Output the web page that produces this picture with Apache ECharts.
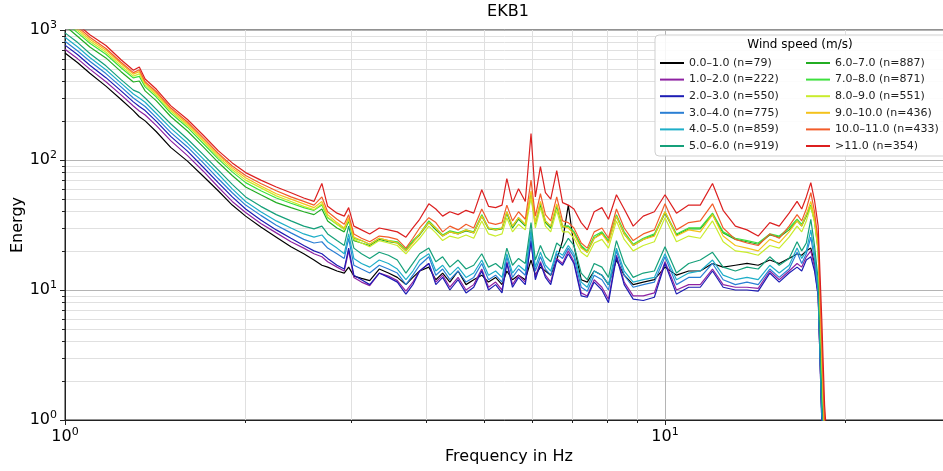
<!DOCTYPE html>
<html>
<head>
<meta charset="utf-8">
<title>EKB1</title>
<script src="https://cdn.jsdelivr.net/npm/echarts@6/dist/echarts.min.js"></script>
<style>
  html, body { margin: 0; padding: 0; background: #fff; }
  #chart { width: 943px; height: 471px; }
</style>
</head>
<body>
<div id="chart"></div>
<script>
// frequencies (Hz) shared by all curves
var freq = [
  1.00, 1.05, 1.10, 1.17, 1.24, 1.30, 1.33, 1.36, 1.42, 1.50,
  1.60, 1.70, 1.80, 1.90, 2.00, 2.12, 2.25, 2.38, 2.50, 2.60,
  2.68, 2.74, 2.84, 2.92, 2.97, 3.03, 3.12, 3.22, 3.34, 3.46,
  3.58, 3.70, 3.80, 3.90, 4.04, 4.15, 4.26, 4.38, 4.52, 4.66,
  4.80, 4.95, 5.08, 5.22, 5.35, 5.45, 5.57, 5.70, 5.85, 5.98,
  6.08, 6.20, 6.32, 6.45, 6.60, 6.75, 6.90, 7.05, 7.25, 7.42,
  7.62, 7.85, 8.05, 8.30, 8.55, 8.85, 9.20, 9.60, 10.00, 10.45,
  10.95, 11.45, 12.00, 12.50, 13.10, 13.70, 14.30, 14.95, 15.50, 16.10,
  16.60, 16.90, 17.20, 17.50, 17.75, 18.00, 18.25, 18.45, 18.70
];

// energy per wind speed class
var ws00_01 = [665,560,465,370,292,240,215,200,165,125,
  98,75,58,45,37,30.5,25.5,21.5,19,17,
  15.5,15,14,13.5,15,12.8,12.3,11.8,14.5,13.5,
  12.5,11,12.5,14,15,12,13.5,11.5,14,11,
  12,13,11.5,12.5,11,14,12,13,12,17,
  13,15,14,13,17,24,45,22,12,11.5,
  14,13,11,17,13,11,11.5,12,15,13,
  14,14,16,15,15.5,16,15.5,17,16,17.5,
  19,18.5,20,21,16,9.5,1.1,0.5,0.5];
var ws01_02 = [712,600,500,400,317,260,238,222,184,141,
  108,82,62,48,39.5,32.5,27.5,23.5,21,19,
  18,16.5,15,14,20,12.5,11.5,10.8,13.5,12.8,
  11.8,9.8,11.5,14,16,11.5,13,10.5,12.5,10,
  11,14.5,10.5,11.5,10,16.5,11,13,11.5,24,
  12.5,16.5,13,11.5,17.5,16,20,16.5,9.5,9,
  12,10.5,8.5,18.5,11.5,9,9,9.5,16.5,10,
  11,11,14.5,11,10.5,10.5,10.3,14,12,14,
  16,15,18,20,15,9,1,0.5,0.5];
var ws02_03 = [765,645,535,430,340,280,258,240,198,152,
  117,88,67,52,42,34.5,29,25,22,20,
  19,17.5,15.5,14.5,21,13,12,11,13.5,12.5,
  11.5,9.3,11,14,16,11,12.5,10,12,9.5,
  10.5,14,10,11,9.5,16,10.5,12.5,11,24,
  12,16,12.5,11,17,15.5,19,16,9,8.8,
  11.5,10,8,18,11,8.5,8.3,8.8,16,9.3,
  10.5,10.5,14,10.5,10,10,9.8,13.5,11.5,13.5,
  15,14,17,18,14,9,1,0.5,0.5];
var ws03_04 = [820,690,575,462,365,300,278,258,212,163,
  126,95,72,56,45,37.5,31.5,27.5,24.5,23,
  23.5,21,19,17.5,25,15.5,14.5,13.5,15.5,14.5,
  13.5,11,13,15.5,18,13,14.5,12,14,11.5,
  12.5,16,12,13,11.5,18,12.5,14.5,13,27,
  14,18,14.5,13,19,17.5,21,18,10.5,9.8,
  13,12,10,20,13,10.5,11,11.5,18,11,
  12.5,12.5,16,12,11,11.5,11,14.5,12.5,14.5,
  19.5,16,19,25.5,17,9.5,1.1,0.6,0.5];
var ws04_05 = [880,740,615,495,390,322,300,278,228,176,
  135,102,78,60,48,40,34,30,27,25.5,
  26.5,23.5,21,19,27,17.5,16,15,17,16,
  14.5,12,14,17,19,14,15.5,13,15,12.5,
  13.5,17,13,14,12.5,19,13.5,15.5,14,29,
  15,19.5,15.5,14,20,18.5,22,19,11.5,10.5,
  14,13,11,21,14,11.5,12,12.5,19,12,
  13.5,14,17,13,12,12.5,12,15.5,13.5,15.5,
  21,17.5,20,29,19,10.5,1.3,0.6,0.5];
var ws05_06 = [950,800,660,530,415,345,330,300,245,190,
  145,110,84,65,52,44,38,34,31,29.5,
  31,27,24,22,31,21,19,17.5,19.5,18.5,
  17,13.5,16,19,21,16.5,18,15,17,14.5,
  15.5,19,15,16,14.5,21,15.5,17.5,16,33,
  17,22,18,16.5,23,21,25,22,13.5,12,
  16,15,12.5,24,16,12.5,13.5,14,21.5,13.5,
  16,17,19.5,15,14,15,14.5,18,15.5,17.5,
  23.5,20,23,35,22,12,1.5,0.6,0.5];
var ws06_07 = [1080,890,740,610,478,398,405,340,285,216,
  167,126,96,76,62,54,47,43,40,38,
  42,34,30,28,34,24,23,22,24.5,23.5,
  23,20,23.5,26.5,33,29,26,28,27,28.5,
  27.5,37,29.5,29,29.5,39,30,35,31,54,
  32,45,33,30,44,30.5,31,28,21.5,19.5,
  25,27.5,23.5,37,27,22,24.5,26.5,39,26.5,
  29.5,29.5,38,27.5,24.5,23.5,22.5,26.5,25.5,29,
  34,31,37,44,34,20,2.8,0.7,0.5];
var ws07_08 = [1150,950,790,650,512,428,440,365,305,230,
  178,134,102,81,67,58,51,46.5,43,41,
  45,36,32,29.5,35,25,24,22.5,25,24,
  23.5,20.5,24,27,34,30,26.5,28.5,27.5,29,
  28,38,30,29.5,30,40,31,36,32,56,
  33,47,34,31,45,31,31,28,22,20,
  26,28,24,38,28,22.5,25,27,40,27,
  30,30,39,28,25,24,23,27,26,30,
  35,32,38,45,35,21,3,0.7,0.5];
var ws08_09 = [1200,985,820,675,530,442,460,378,315,238,
  184,139,106,84,70,61,53,48,44,41.5,
  46,36.5,32,29,35,24.5,23,21.5,24,23,
  22,19,22,25,31,27.5,24,26,25,26.5,
  25,34,27,26,27,36,28,32,29,52,
  30,43,31,28,41,28,28,25,19.5,18,
  23,24.5,21,34,24.5,20,22,23.5,36,23.5,
  26,25,34,23.5,20,19.5,18.5,22,21,25.5,
  31,28,34,44,33,20,3,0.7,0.5];
var ws09_10 = [1250,1020,850,700,550,458,478,390,325,245,
  190,143,110,87,73,63,55,50,46,43,
  48,38,33,30,36,25.5,24,22.5,25,24,
  23,20,23,27,33,30,26,28,27,29,
  27.5,37,30,29,30,40,31,36,32,58,
  33,48,34,31,46,31,30,27,21,19.5,
  25,27,23,37,27,22,24.5,26,40,26,
  29,28,38,26,22,21,20,24.5,23,28,
  34,31,38,48,36,22,3.5,0.8,0.5];
var ws10_11 = [1300,1060,880,720,565,470,495,400,335,252,
  196,148,113,90,76,66,58,52,48,45,
  52,40,35,32,38,27,25,23.5,26,25.5,
  24.5,21,25,30,36,33,28,31,29,32,
  30,42,33,32,33,45,34,40,35,70,
  37,55,38,34,52,34,33,30,23,21,
  28,30,25,42,30,24,27,29,46,29,
  33,34,46,30,24.5,23,22,27,25,31,
  38,34,42,56,40,24,4,0.9,0.5];
var ws11_up = [1350,1100,920,760,590,490,520,420,350,262,
  205,155,118,95,80,70,62,56,51,48,
  66,44,39,37,43,31,29,27,30,29,
  28,25.5,30,35,46,42,37,40,38,41,
  39,59,44,43,45,72,47,60,48,160,
  52,89,56,50,83,47,45,42,33,29,
  40,43,35,54,42,31,37,40,54,39,
  45,45,66,41,31,29,26,33,31,39,
  48,42,52,67,49,31,6,1.3,0.5];

var names = ['0.0\u20131.0 (n=79)', '1.0\u20132.0 (n=222)', '2.0\u20133.0 (n=550)',
  '3.0\u20134.0 (n=775)', '4.0\u20135.0 (n=859)', '5.0\u20136.0 (n=919)',
  '6.0\u20137.0 (n=887)', '7.0\u20138.0 (n=871)', '8.0\u20139.0 (n=551)',
  '9.0\u201310.0 (n=436)', '10.0\u201311.0 (n=433)', '>11.0 (n=354)'];
var values = [ws00_01, ws01_02, ws02_03, ws03_04, ws04_05, ws05_06,
  ws06_07, ws07_08, ws08_09, ws09_10, ws10_11, ws11_up];
var colors = ['#000000', '#8e22a2', '#1c1cb4', '#2a7fd4', '#1eaec8', '#15a07a',
  '#22ad22', '#3ee03e', '#c9ec2c', '#f4c21c', '#f25c2a', '#dc1f1f'];

var FONT = 'DejaVu Sans';

function powLabel(v) {
  var e = Math.round(Math.log10(v));
  if (Math.abs(Math.log10(v) - e) > 1e-6) return '';
  return '{b|10}{s|' + e + '}';
}
var powRich = {
  b: { fontFamily: FONT, fontSize: 16, color: '#000' },
  s: { fontFamily: FONT, fontSize: 11, color: '#000', padding: [0, 0, 9, 0] }
};

var series = names.map(function (n, k) {
  return {
    name: n,
    type: 'line',
    data: freq.map(function (f, i) { return [f, values[k][i]]; }),
    showSymbol: false,
    symbol: 'none',
    color: colors[k],
    lineStyle: { color: colors[k], width: 1.2 },
    clip: true,
    animation: false,
    z: 3
  };
});

var legendCommon = {
  orient: 'vertical',
  padding: 0,
  itemGap: 2.6,
  itemWidth: 24,
  itemHeight: 2,
  icon: 'rect',
  top: 56,
  z: 20,
  selectedMode: false,
  textStyle: { fontFamily: FONT, fontSize: 11, color: '#222', lineHeight: 14 }
};

// log axis styling shared by x and y
function logAxis(extra) {
  return Object.assign({
    type: 'log', logBase: 10,
    nameMoveOverlap: false,
    nameTextStyle: { fontFamily: FONT, fontSize: 16, color: '#000' },
    axisLine: { show: true, onZero: false, lineStyle: { color: '#222', width: 1 } },
    axisTick: { show: true, length: 5, lineStyle: { color: '#222' } },
    minorTick: { show: true, splitNumber: 9, length: 3, lineStyle: { color: '#222' } },
    axisLabel: { formatter: powLabel, rich: powRich, margin: 8 },
    splitLine: { show: true, lineStyle: { color: '#b4b4b4', width: 1 } },
    minorSplitLine: { show: true, lineStyle: { color: '#e0e0e0', width: 1 } }
  }, extra);
}

var chart = echarts.init(document.getElementById('chart'));
chart.setOption({
  animation: false,
  textStyle: { fontFamily: FONT },
  title: {
    text: 'EKB1',
    left: 508,
    top: 4,
    padding: 0,
    textAlign: 'center',
    textStyle: { fontFamily: FONT, fontSize: 16, fontWeight: 'normal', color: '#000' }
  },
  // the x range runs past the window edge (axes end near 30 Hz)
  grid: {
    left: 65, top: 30, width: 1200, height: 390,
    show: true, borderColor: '#222', borderWidth: 1,
    containLabel: false,
    outerBoundsMode: 'none'
  },
  legend: [
    Object.assign({}, legendCommon, { left: 660, data: names.slice(0, 6) }),
    Object.assign({}, legendCommon, { left: 806, data: names.slice(6) })
  ],
  graphic: [
    {
      type: 'rect', z: 10, silent: true,
      shape: { x: 655, y: 35, width: 300, height: 121, r: 4 },
      style: { fill: 'rgba(255,255,255,0.88)', stroke: '#cfcfcf', lineWidth: 1 }
    },
    {
      type: 'text', z: 11, silent: true, x: 800, y: 45,
      style: { text: 'Wind speed (m/s)', fontFamily: FONT, fontSize: 12, fill: '#000',
        align: 'center', verticalAlign: 'middle' }
    },
    {
      type: 'text', silent: true, x: 509, y: 457,
      style: { text: 'Frequency in Hz', fontFamily: FONT, fontSize: 16, fill: '#000',
        align: 'center', verticalAlign: 'middle' }
    }
  ],
  xAxis: logAxis({
    min: 1, max: 100,
    axisLabel: { formatter: powLabel, rich: powRich, margin: 7 }
  }),
  yAxis: logAxis({
    min: 1, max: 1000,
    name: 'Energy', nameLocation: 'middle', nameGap: 39
  }),
  series: series
});
</script>
</body>
</html>
